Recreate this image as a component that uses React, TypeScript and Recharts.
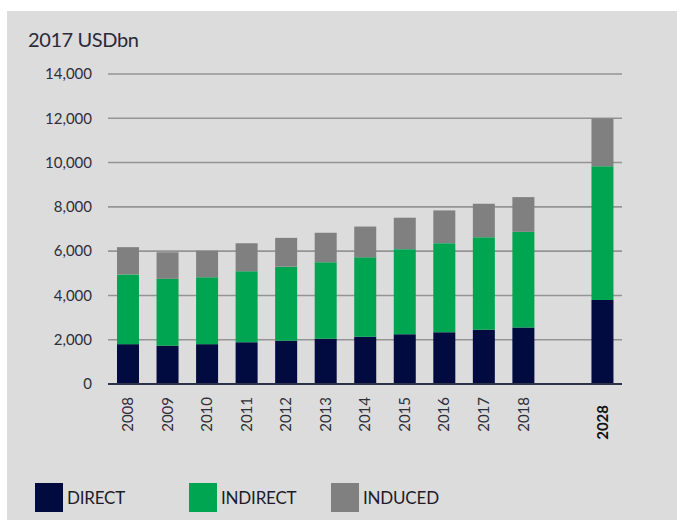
import React from 'react';
import { BarChart, Bar, XAxis, YAxis, CartesianGrid, Legend } from 'recharts';

const categories = ['2008', '2009', '2010', '2011', '2012', '2013', '2014', '2015', '2016', '2017', '2018', '', '2028'];
const direct = [1800, 1730, 1800, 1880, 1950, 2040, 2130, 2250, 2340, 2450, 2550, null, 3790];
const indirect = [3150, 3020, 3020, 3210, 3350, 3460, 3590, 3840, 4020, 4180, 4320, null, 6040];
const induced = [1230, 1200, 1200, 1270, 1300, 1330, 1390, 1420, 1480, 1510, 1570, null, 2160];
const yTicks = [0, 2000, 4000, 6000, 8000, 10000, 12000, 14000];
const unitLabel = '2017 USDbn';

const seriesDefs = [
  { key: 'direct', name: 'DIRECT', color: '#010b40' },
  { key: 'indirect', name: 'INDIRECT', color: '#00a551' },
  { key: 'induced', name: 'INDUCED', color: '#808080' },
];

const data = categories.map((c, i) => ({
  year: c,
  direct: direct[i],
  indirect: indirect[i],
  induced: induced[i],
}));

const FONT = 'Lato, "Open Sans", sans-serif';

function XTick(props: any) {
  const { x, y, payload } = props;
  if (!payload || !payload.value) return null;
  const bold = payload.value === '2028';
  return (
    <g transform={`translate(${x},${y})`}>
      <text
        transform="rotate(-90)"
        x={bold ? -13 : -5}
        y={0}
        dy="0.36em"
        textAnchor="end"
        fontFamily={FONT}
        fontSize={15}
        fontWeight={bold ? 700 : 400}
        fill={bold ? '#111' : '#2e2e38'}
      >
        {payload.value}
      </text>
    </g>
  );
}

const legendX = [35, 189, 331];

function LegendContent() {
  return (
    <div style={{ position: 'relative', width: 677, height: 40 }}>
      {seriesDefs.map((s, i) => (
        <div key={s.key} style={{ position: 'absolute', left: legendX[i], top: 0, display: 'flex', alignItems: 'center' }}>
          <div style={{ width: 28, height: 29, background: s.color }} />
          <span style={{ marginLeft: 4, fontFamily: FONT, fontSize: 17, color: '#1c1c2a', letterSpacing: -0.2 }}>{s.name}</span>
        </div>
      ))}
    </div>
  );
}

export default function App() {
  return (
    <div style={{ position: 'absolute', left: 0, top: 0, width: 677, height: 520, background: '#fff', overflow: 'hidden' }}>
      <div style={{ position: 'absolute', left: 7, top: 11, width: 670, height: 509, background: '#dcdcdc' }} />
      <div style={{ position: 'absolute', left: 28, top: 27, fontFamily: FONT, fontSize: 20, color: '#2a2a3a', letterSpacing: -0.4 }}>
        {unitLabel}
      </div>
      <div style={{ position: 'absolute', left: 0, top: 0 }}>
        <BarChart
          width={677}
          height={520}
          data={data}
          margin={{ top: 74, right: 55, bottom: 46, left: 0 }}
          barSize={22}
        >
          <CartesianGrid horizontal vertical={false} stroke="#949494" strokeWidth={1.6} />
          <XAxis
            dataKey="year"
            tickLine={false}
            axisLine={{ stroke: '#2c3347', strokeWidth: 2 }}
            tick={<XTick />}
            interval={0}
            height={50}
          />
          <YAxis
            width={108}
            domain={[0, 14000]}
            ticks={yTicks}
            axisLine={false}
            tickLine={false}
            tickSize={6}
            tickMargin={10}
            interval={0}
            tickFormatter={(v: number) => v.toLocaleString('en-US')}
            tick={{ fontFamily: FONT, fontSize: 15, fill: '#2e2e38' }}
          />
          {seriesDefs.map((s) => (
            <Bar key={s.key} dataKey={s.key} name={s.name} stackId="a" fill={s.color} isAnimationActive={false} />
          ))}
          <Legend
            content={<LegendContent />}
            wrapperStyle={{ position: 'absolute', left: 0, top: 483, width: 677, height: 40 }}
          />
        </BarChart>
      </div>
    </div>
  );
}
